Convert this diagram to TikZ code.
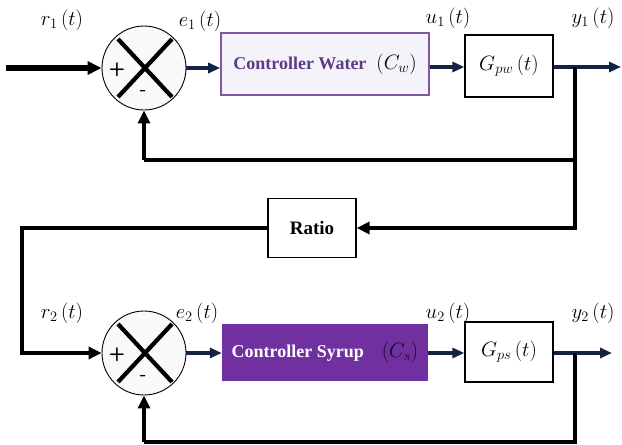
\documentclass[tikz,border=0pt]{standalone}
\usepackage{fontspec}
\setmainfont{Liberation Serif}
\usetikzlibrary{arrows.meta,calc}
\definecolor{navy}{RGB}{18,36,66}
\definecolor{purpleline}{RGB}{126,87,165}
\definecolor{purpletext}{RGB}{94,58,135}
\definecolor{lavender}{RGB}{245,243,250}
\definecolor{syrup}{RGB}{112,48,160}
\tikzset{
  sumnode/.style={circle,draw=black,line width=0.9pt,fill=gray!5,minimum size=84pt,inner sep=0pt},
  xline/.style={line width=4.2pt,black},
  blk/.style={draw=black,line width=1.2pt,fill=white,inner sep=0pt},
  sig/.style={font=\fontsize{20}{20}\selectfont},
  pm/.style={font=\sffamily\bfseries\fontsize{19}{19}\selectfont},
  fb/.style={line width=3.2pt,black,-{Triangle[length=13pt,width=12pt]}},
  fbl/.style={line width=3.2pt,black},
  fwd/.style={line width=3.6pt,navy,-{Triangle[length=12pt,width=10pt]}},
}
\begin{document}
\begin{tikzpicture}[x=1pt,y=-1pt]
\useasboundingbox (0,0) rectangle (622,445);
% top loop
\node[sumnode] (s1) at (144,68) {};
\draw[xline] ($(s1.center)+(-26,-29)$) -- ($(s1.center)+(28,29)$);
\draw[xline] ($(s1.center)+(28,-29)$) -- ($(s1.center)+(-26,29)$);
\node[pm] (p1) at (117,70) {+};
\node[pm] (m1) at (143,93) {-};
\node[draw=purpleline,line width=1.6pt,fill=lavender,minimum width=208pt,minimum height=62pt,inner sep=0pt] (cw) at (325,64)
  {\fontsize{18}{18}\selectfont\textcolor{purpletext}{\bfseries Controller Water}\hspace{10pt}{\fontsize{20}{20}\selectfont$\left(C_w\right)$}};
\node[blk,minimum width=88pt,minimum height=62pt] (gw) at (509,66) {\fontsize{21}{21}\selectfont$G_{pw}\left(t\right)$};
\coordinate (in1) at (6,68);
\coordinate (o1) at (621,67);
\coordinate (b1) at (575,67);
\coordinate (c1) at (575,160);
\coordinate (f1) at (144,160);
\draw[line width=5.5pt,black,-{Triangle[length=14pt,width=13pt]}] (in1) -- (s1.west);
\draw[fwd] (s1.east) -- (s1.east -| cw.west);
\draw[fwd] (cw.east |- o1) -- (gw.west |- o1);
\draw[fwd] (gw.east |- o1) -- (o1);
\draw[fbl] (b1) -- (c1) -- (f1);
\draw[fb] (f1) -- (s1.south);
% ratio
\node[blk,minimum width=88pt,minimum height=59pt,font=\bfseries\fontsize{19}{19}\selectfont] (ratio) at (312,228) {Ratio};
\coordinate (c2) at (575,228);
\coordinate (l2) at (22,228);
\draw[fb] (c1) -- (c2) -- (ratio.east);
% bottom loop
\node[sumnode] (s2) at (144,353) {};
\draw[xline] ($(s2.center)+(-26,-29)$) -- ($(s2.center)+(28,29)$);
\draw[xline] ($(s2.center)+(28,-29)$) -- ($(s2.center)+(-26,29)$);
\node[pm] (p2) at (117,355) {+};
\node[pm] (m2) at (143,378) {-};
\draw[fb] (ratio.west) -- (l2) |- (s2.west);
\node[fill=syrup,minimum width=206pt,minimum height=57pt,inner sep=0pt] (cs) at (325,352)
  {\fontsize{18}{18}\selectfont\textcolor{white}{\bfseries Controller Syrup}\hspace{18pt}{\fontsize{20}{20}\selectfont\textcolor{black!80!syrup}{$\left(C_s\right)$}}};
\node[blk,minimum width=88pt,minimum height=60pt] (gs) at (509,352) {\fontsize{21}{21}\selectfont$G_{ps}\left(t\right)$};
\coordinate (o2) at (612,353);
\coordinate (b2) at (575,353);
\coordinate (c3) at (575,442);
\coordinate (f2) at (144,442);
\draw[fwd] (s2.east) -- (s2.east -| cs.west);
\draw[fwd] (cs.east |- o2) -- (gs.west |- o2);
\draw[fwd] (gs.east |- o2) -- (o2);
\draw[fbl] (b2) -- (c3) -- (f2);
\draw[fb] (f2) -- (s2.south);
% labels
\node[sig] (lr1) at (62,20) {$r_1\left(t\right)$};
\node[sig] (le1) at (200,21) {$e_1\left(t\right)$};
\node[sig] (lu1) at (448,18) {$u_1\left(t\right)$};
\node[sig] (ly1) at (593,18) {$y_1\left(t\right)$};
\node[sig] (lr2) at (62,313) {$r_2\left(t\right)$};
\node[sig] (le2) at (197,313) {$e_2\left(t\right)$};
\node[sig] (lu2) at (448,313) {$u_2\left(t\right)$};
\node[sig] (ly2) at (593,313) {$y_2\left(t\right)$};
\end{tikzpicture}
\end{document}
